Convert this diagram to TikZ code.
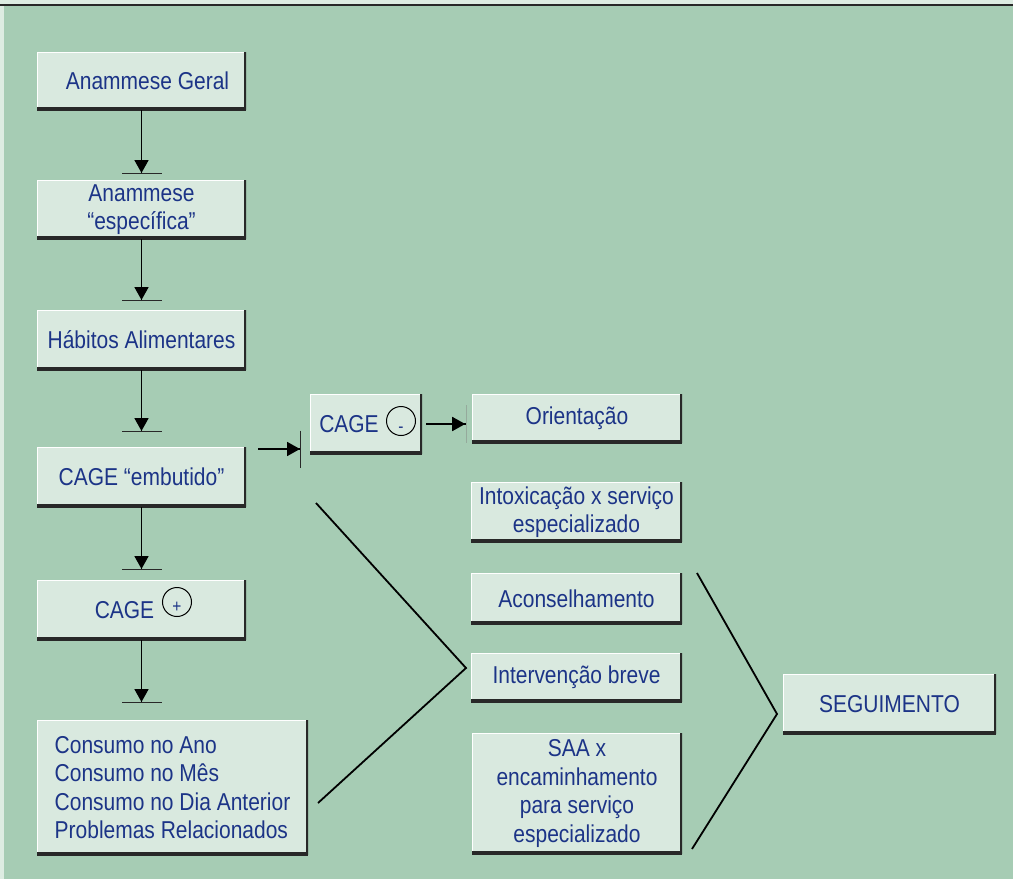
\documentclass[tikz,border=0pt]{standalone}
\usepackage{fontspec}
\setmainfont{Liberation Sans}[FakeStretch=0.86]
\definecolor{panelgreen}{RGB}{166,204,180}
\definecolor{panellight}{RGB}{221,236,226}
\definecolor{boxfill}{RGB}{217,233,223}
\definecolor{navyblue}{RGB}{28,52,135}
\definecolor{edgegray}{RGB}{40,40,40}
\usetikzlibrary{arrows.meta}

\begin{document}
\begin{tikzpicture}[x=0.5pt, y=-0.5pt,
  box/.style={fill=boxfill, text=navyblue, align=center, inner sep=2pt,
              minimum width=104.5pt, minimum height=30pt,
              font=\fontsize{12.2}{14.3}\selectfont,
              path picture={
                \draw[white, line width=1.4pt]
                  (path picture bounding box.south west) --
                  (path picture bounding box.north west) --
                  (path picture bounding box.north east);
                \draw[edgegray, line width=2.6pt]
                  (path picture bounding box.south west) --
                  (path picture bounding box.south east);
                \draw[edgegray, line width=1.8pt]
                  (path picture bounding box.south east) --
                  (path picture bounding box.north east);}},
  sign/.style={circle, draw=black, line width=0.5pt, minimum size=14.5pt,
               inner sep=0pt, text=navyblue, font=\small},
  arr/.style={line width=0.9pt,
              -{Triangle[width=7pt,length=6.5pt,sep=0pt]Bar[width=20pt,line width=0.5pt,color=edgegray]}},
  harr/.style={line width=0.9pt,
              -{Triangle[width=7pt,length=6.5pt,sep=0pt]Bar[width=18.5pt,line width=0.5pt,color=edgegray]}},
  farr/.style={line width=0.9pt,
              -{Triangle[width=7pt,length=6.5pt,sep=0.5pt]Bar[width=19pt,line width=0.4pt,color=gray!45!panelgreen]}},
  brace/.style={line width=0.9pt, line join=miter},
]
\useasboundingbox (0,0) rectangle (1013,879);

% Panel
\fill[panellight] (0,0) rectangle (1013,879);
\fill[panelgreen] (4,6) rectangle (1013,879);
\draw[edgegray, line width=1pt] (0,5) -- (1013,5);

% Left column
\node[box, minimum height=29pt] (anam) at (141.5,81) {\hspace{6pt}Anammese Geral};
\node[box, minimum height=29.5pt] (spec) at (141.5,209.5) {Anammese\\“específica”};
\node[box] (habit) at (141.5,340) {Hábitos Alimentares};
\node[box] (embut) at (141.5,477) {CAGE “embutido”};
\node[box] (cpos) at (141.5,610) {CAGE\hspace{17pt}};
\node[sign] (plus) at (177,602) {\raisebox{-5pt}[0pt][0pt]{+}};
\node[box, align=left, minimum width=135.5pt, minimum height=67.5pt]
  (cons) at (172.5,787.5)
  {Consumo no Ano\\Consumo no Mês\\Consumo no Dia Anterior\\Problemas Relacionados};

% Middle column
\node[box, minimum width=56pt] (cneg) at (366,424) {CAGE\hspace{17pt}};
\node[sign] (minus) at (401,421) {\raisebox{-5.5pt}[0pt][0pt]{-}};
\node[box, minimum width=105pt, minimum height=24.5pt] (orient) at (577,418.5) {Orientação};
\node[box, minimum width=105.5pt] (intox) at (576.5,512) {Intoxicação x serviço\\especializado};
\node[box, minimum width=105.5pt, minimum height=25.5pt] (acons) at (576.5,598.5) {Aconselhamento};
\node[box, minimum width=105.5pt, minimum height=24.5pt] (interv) at (576.5,677.5) {Intervenção breve};
\node[box, minimum width=105pt, minimum height=60.5pt] (saa) at (577,793.5)
  {SAA x\\encaminhamento\\para serviço\\especializado};

% Right column
\node[box, minimum width=106.5pt] (segui) at (889.5,704) {SEGUIMENTO};

% Arrow ends
\coordinate (t2) at (141.5,174);
\coordinate (t3) at (141.5,301);
\coordinate (t4) at (141.5,432);
\coordinate (t5) at (141.5,570);
\coordinate (t6) at (141.5,703);
\coordinate (h1) at (258,449);
\coordinate (h2) at (301,449);
\coordinate (o1) at (467,424);

% Bracket corners
\coordinate (ltop) at (316,503);
\coordinate (ltip) at (466,668);
\coordinate (lbot) at (318,803);
\coordinate (rtop) at (697,573);
\coordinate (rtip) at (777,714);
\coordinate (rbot) at (692,849);

% Flow
\draw[arr] (anam.south) -- (t2);
\draw[arr] (spec.south) -- (t3);
\draw[arr] (habit.south) -- (t4);
\draw[arr] (embut.south) -- (t5);
\draw[arr] (cpos.south) -- (t6);
\draw[harr] (h1) -- (h2);
\draw[farr] ([xshift=2pt]cneg.east) -- (o1);

% Brackets
\draw[brace] (ltop) -- (ltip) -- (lbot);
\draw[brace] (rtop) -- (rtip) -- (rbot);
\end{tikzpicture}
\end{document}
